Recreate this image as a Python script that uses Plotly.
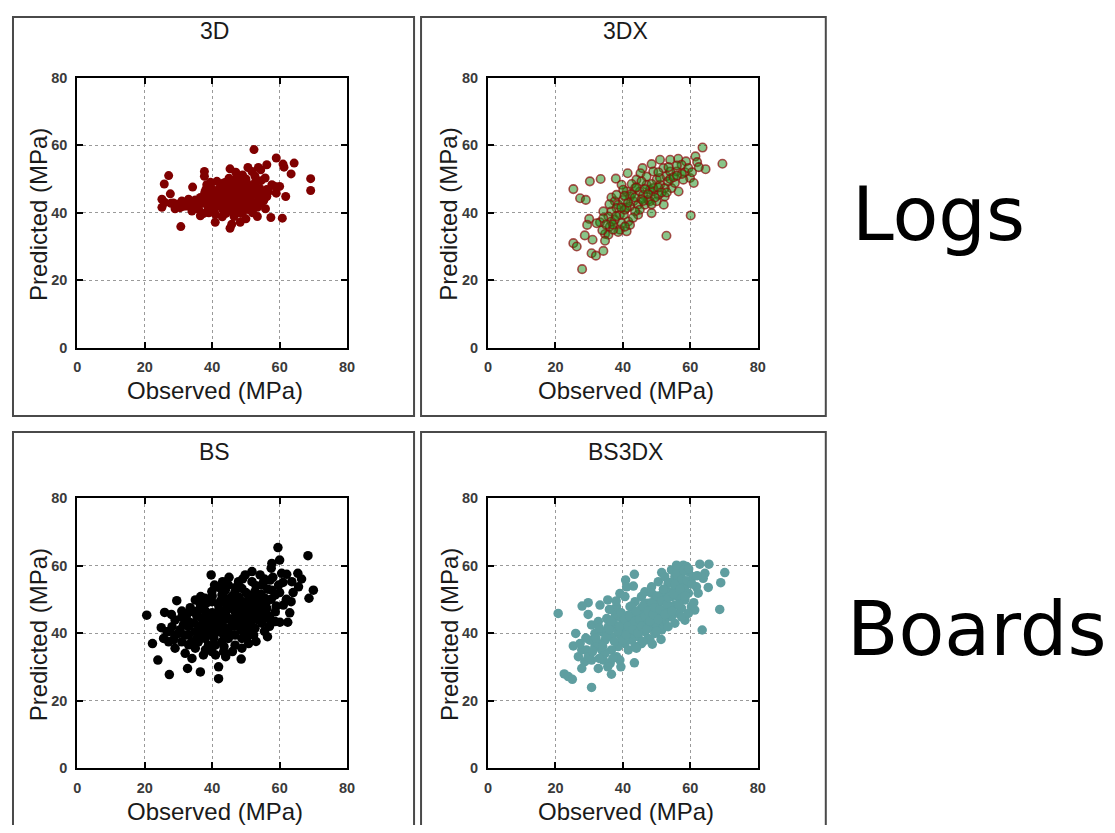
import plotly.graph_objects as go

# ---------------- data (Observed, Predicted) in MPa ----------------
panel_titles = ["3D", "3DX", "BS", "BS3DX"]
row_labels = ["Logs", "Boards"]
tick_vals = [0, 20, 40, 60, 80]

pts_3d = [
    (52.4, 58.7), (59.0, 56.2), (64.3, 54.7), (61.0, 54.4), (61.3, 53.5), (56.2, 54.2),
    (53.7, 53.4), (54.4, 52.7), (50.6, 53.4), (45.3, 53.0), (63.4, 51.5), (37.7, 52.2),
    (37.7, 50.8), (27.1, 51.0), (25.8, 48.5), (34.2, 47.6), (69.2, 50.1), (69.2, 46.6),
    (25.1, 44.0), (25.1, 41.6), (27.6, 45.6), (28.5, 42.9), (29.0, 41.2), (30.7, 35.9),
    (60.0, 47.8), (61.8, 44.8), (56.2, 44.8), (57.4, 38.6), (60.8, 38.4), (53.4, 38.9),
    (40.9, 37.2), (45.3, 35.4), (45.8, 36.6), (48.3, 37.2), (36.5, 39.1), (31.5, 41.9),
    (33.5, 41.9), (35.0, 43.8), (38.4, 48.3), (38.1, 46.8), (41.4, 49.3), (43.4, 48.8),
    (44.5, 47.8), (47.3, 50.3), (48.3, 49.3), (51.8, 52.2), (52.7, 50.8), (55.7, 50.3),
    (57.7, 48.3), (58.7, 47.8), (52.2, 48.3), (53.2, 46.8), (56.7, 46.3), (59.0, 45.8),
    (36.5, 44.5), (37.2, 42.8), (37.8, 46.0), (38.5, 43.5), (38.8, 41.2), (39.3, 45.2),
    (39.8, 47.3), (40.2, 43.0), (40.5, 40.8), (40.9, 45.9), (41.3, 44.1), (41.8, 42.0),
    (42.0, 47.0), (42.4, 45.0), (42.8, 43.1), (43.1, 41.0), (43.5, 46.2), (43.8, 44.3),
    (44.1, 39.8), (44.5, 42.5), (44.9, 45.7), (45.2, 47.6), (45.5, 43.8), (45.8, 41.5),
    (46.2, 44.9), (46.5, 46.8), (46.8, 42.9), (47.1, 40.3), (47.4, 45.4), (47.7, 48.5),
    (48.0, 43.9), (48.3, 41.8), (48.6, 46.3), (48.9, 44.6), (49.2, 47.5), (49.5, 42.7),
    (49.8, 45.1), (50.1, 49.3), (50.4, 43.5), (50.7, 46.6), (51.0, 40.9), (51.3, 44.2),
    (51.6, 47.9), (51.9, 42.3), (52.2, 45.8), (52.5, 43.0), (52.8, 49.0), (53.1, 46.4),
    (53.4, 41.6), (53.8, 44.8), (54.1, 47.2), (54.5, 42.9), (54.9, 45.5), (55.3, 43.6),
    (55.8, 41.2), (56.2, 46.9), (45.0, 50.2), (46.0, 48.8), (47.5, 50.6), (49.0, 51.2),
    (44.0, 49.0), (42.5, 48.5), (41.0, 39.5), (39.0, 40.0), (43.0, 38.8), (48.5, 39.8),
    (50.0, 38.2), (46.5, 38.9), (37.5, 39.8), (35.5, 42.5), (34.0, 40.5), (32.5, 42.0),
    (30.5, 41.5), (29.5, 42.5), (27.8, 42.8), (26.0, 43.0),
    (44.5, 44.5), (45.5, 46.0), (46.5, 43.5), (47.5, 42.0), (48.5, 45.5), (49.5, 48.5),
    (50.5, 41.5), (51.5, 45.0), (52.5, 47.5), (53.5, 43.0), (46.0, 40.5), (44.0, 42.0),
    (42.0, 44.5), (40.0, 42.0), (49.0, 40.0), (52.0, 40.0), (54.5, 49.5), (55.5, 44.5),
    (43.0, 47.5), (41.5, 46.5), (50.0, 50.0), (47.0, 52.0), (39.5, 49.0), (38.0, 44.0),
    (36.0, 41.0), (33.0, 44.0), (31.0, 43.5), (48.0, 47.0), (45.0, 42.5), (51.0, 43.0),
]

pts_3dx = [
    (63.6, 59.3), (69.5, 54.5), (61.5, 56.7), (62.0, 55.0), (64.5, 52.9), (56.4, 56.0),
    (58.7, 55.2), (51.0, 55.7), (54.0, 55.7), (48.5, 54.4), (45.8, 53.2), (45.2, 51.7),
    (41.4, 51.7), (37.9, 50.1), (30.2, 49.3), (33.4, 50.0), (25.3, 47.0), (27.3, 44.3),
    (29.0, 43.8), (60.1, 39.2), (52.9, 33.2), (27.9, 23.3), (25.3, 31.0), (26.3, 30.0),
    (30.7, 28.0), (32.0, 27.3), (34.2, 28.7), (28.7, 33.3), (31.0, 32.0), (30.0, 38.2),
    (29.4, 36.4), (33.2, 37.2), (34.2, 40.4), (34.7, 33.7), (35.7, 33.5), (33.9, 34.8),
    (36.6, 44.5), (37.6, 43.4), (38.6, 42.4), (39.1, 39.4), (40.3, 39.4), (39.1, 35.0),
    (38.6, 34.3), (41.1, 34.5), (37.6, 37.9), (41.6, 37.4), (42.1, 36.4), (44.5, 39.4),
    (48.5, 39.9), (52.1, 42.4), (56.5, 46.3), (52.4, 44.8), (54.4, 47.3), (58.4, 52.0),
    (59.9, 50.3), (61.0, 48.8), (57.9, 49.8), (55.9, 52.2), (52.9, 50.8), (50.0, 49.8),
    (47.0, 48.3), (48.0, 46.8), (43.6, 47.3), (45.0, 46.3), (41.1, 46.3), (42.1, 44.8),
    (39.6, 48.3), (40.1, 46.8), (43.1, 43.4), (44.5, 42.4), (46.0, 45.3), (47.5, 43.8),
    (49.0, 46.3), (50.5, 45.3), (46.5, 42.4), (45.0, 40.9), (42.1, 41.9), (40.6, 40.9),
    (38.1, 41.4), (36.6, 40.4), (35.7, 38.9), (36.6, 37.4), (39.6, 36.9), (40.6, 35.9),
    (51.0, 48.3), (52.4, 47.3), (53.4, 49.3), (55.4, 48.8), (57.4, 54.2), (59.4, 53.2),
    (52.0, 53.2), (54.0, 52.2), (49.0, 52.2), (51.0, 50.3), (44.0, 49.8), (42.6, 48.5),
    (40.1, 43.8), (38.1, 45.3), (34.2, 38.4), (32.2, 36.9), (36.1, 35.9), (37.1, 35.0),
    (34.7, 31.7), (41.1, 41.4), (43.6, 40.4), (48.0, 43.4), (50.0, 43.4), (49.0, 47.3),
    (47.0, 50.7), (45.5, 49.3),
    (42.5, 45.5), (43.5, 44.5), (44.0, 47.5), (45.5, 44.0), (46.5, 47.0), (47.5, 45.5),
    (48.5, 48.5), (49.5, 44.5), (50.5, 47.5), (51.5, 46.0), (53.0, 46.0), (54.0, 50.0),
    (55.0, 50.5), (56.0, 54.0), (57.5, 51.5), (41.5, 43.0), (40.5, 45.0), (39.5, 41.5),
    (38.0, 39.0), (37.0, 36.5), (35.0, 36.5), (36.0, 42.5), (43.0, 38.5), (46.0, 43.5),
    (48.5, 42.5), (50.5, 52.0), (53.5, 53.5), (56.0, 51.0), (60.5, 52.0), (62.5, 53.5),
]

pts_bs = [
    (59.5, 65.3), (68.4, 62.9), (60.0, 61.6), (57.7, 60.6), (57.5, 59.2), (70.0, 52.7),
    (68.7, 50.3), (65.4, 57.7), (63.6, 55.2), (65.6, 53.7), (63.4, 49.3), (62.4, 43.2),
    (60.1, 43.2), (56.4, 38.9), (48.6, 32.3), (41.9, 30.0), (41.9, 26.5), (36.5, 28.5),
    (32.7, 29.5), (27.3, 27.7), (23.9, 32.0), (22.3, 36.9), (20.6, 45.3), (24.9, 41.6),
    (25.9, 46.1), (27.9, 45.5), (29.5, 49.6), (39.7, 57.2), (40.7, 54.2), (43.1, 55.2),
    (36.6, 50.8), (35.0, 49.8), (37.4, 47.8), (43.9, 52.7), (49.8, 57.2), (51.8, 58.2),
    (54.2, 57.2), (54.7, 54.2), (57.2, 55.7), (60.6, 57.7), (62.1, 57.4), (59.7, 54.2),
    (57.7, 52.7), (58.7, 51.3), (55.7, 50.3), (61.1, 48.3), (58.7, 46.3), (56.7, 44.3),
    (58.7, 43.4), (54.7, 42.9), (52.7, 41.4), (52.3, 39.4), (49.8, 40.4), (50.8, 36.9),
    (46.8, 36.4), (48.8, 35.5), (43.4, 34.5), (39.9, 34.5), (37.4, 33.5), (34.0, 32.5),
    (32.0, 34.0), (29.0, 35.5), (27.1, 37.4), (26.6, 40.4), (28.1, 41.9), (31.0, 44.8),
    (33.0, 43.4), (30.0, 39.9), (32.0, 39.4), (34.5, 46.3), (36.0, 46.8), (38.4, 45.3),
    (39.9, 49.3), (41.9, 48.3), (43.9, 50.3), (45.8, 49.3), (46.8, 52.3), (48.8, 53.2),
    (50.8, 51.3), (52.7, 52.3), (51.8, 55.2), (55.2, 55.0), (46.8, 46.3), (48.8, 45.3),
    (50.8, 46.3), (52.3, 47.8), (44.8, 44.3), (42.9, 45.3), (40.9, 43.4), (38.9, 42.4),
    (36.9, 41.4), (35.0, 40.4), (33.0, 39.4), (34.0, 37.4), (35.9, 37.4), (37.9, 38.4),
    (39.9, 39.4), (41.9, 40.4), (43.9, 41.4), (45.8, 42.4), (47.8, 43.4), (49.8, 44.3),
    (51.8, 44.8), (53.7, 46.3), (44.8, 38.4), (46.8, 39.4), (42.9, 37.4), (40.9, 36.4),
    (38.9, 36.4), (31.0, 37.4), (29.0, 39.4), (39.9, 52.3), (37.9, 50.3), (42.9, 51.3),
    (44.8, 54.2), (47.8, 55.2), (45.8, 47.3), (43.9, 46.3), (47.8, 48.3), (49.8, 49.3),
    (53.7, 49.3), (56.2, 47.3), (54.7, 45.3), (41.9, 42.4), (36.9, 44.3), (33.0, 41.9),
    (27.1, 40.4), (25.6, 38.4), (29.0, 43.9), (43.4, 39.4), (48.8, 38.4), (50.8, 41.4),
    (40.9, 45.3), (38.4, 40.4), (35.5, 38.4),
    (31.5, 42.5), (32.5, 45.5), (33.5, 47.5), (34.5, 43.0), (35.5, 45.0), (36.0, 42.0),
    (36.5, 48.5), (37.0, 39.5), (37.5, 44.0), (38.0, 46.5), (38.5, 49.0), (39.0, 41.0),
    (39.5, 43.5), (40.0, 46.0), (40.5, 38.5), (41.0, 41.5), (41.5, 44.5), (42.0, 47.0),
    (42.5, 49.5), (43.0, 43.0), (43.5, 36.0), (44.0, 45.5), (44.5, 48.0), (45.0, 40.0),
    (45.5, 44.0), (46.0, 51.0), (46.5, 42.0), (47.0, 45.0), (47.5, 47.0), (48.0, 50.5),
    (48.5, 41.0), (49.0, 43.0), (49.5, 47.5), (50.0, 52.0), (50.5, 39.0), (51.0, 49.0),
    (51.5, 43.0), (52.0, 45.5), (52.5, 50.5), (53.0, 54.0), (53.5, 44.0), (54.0, 48.0),
    (54.5, 51.5), (55.0, 46.0), (55.5, 56.0), (56.0, 49.0), (56.5, 53.0), (57.0, 45.0),
    (57.5, 50.0), (58.0, 56.5), (59.0, 48.0), (60.0, 52.0), (61.0, 55.0), (62.0, 50.0),
    (63.0, 46.0), (64.0, 52.0), (66.5, 56.0), (35.0, 35.5), (33.0, 36.5), (30.5, 41.0),
    (28.5, 38.0), (31.0, 46.5), (44.0, 33.0), (46.0, 34.5), (38.0, 35.0), (41.0, 33.5),
    (53.0, 37.5), (55.5, 40.5), (57.0, 42.0), (47.0, 53.5), (49.0, 56.0), (45.0, 56.5),
    (42.0, 53.5), (40.0, 51.0),
]

pts_bs3dx = [
    (20.8, 45.8), (22.6, 27.9), (23.8, 27.1), (25.0, 26.3), (30.7, 23.9), (36.6, 27.8),
    (39.4, 30.0), (43.4, 31.2), (51.3, 38.1), (48.7, 36.7), (58.4, 43.8), (63.5, 40.9),
    (68.7, 47.0), (70.2, 57.9), (69.0, 54.9), (65.3, 53.5), (62.8, 60.4), (65.5, 60.4),
    (64.3, 57.7), (63.8, 56.2), (57.9, 60.1), (51.5, 57.9), (43.4, 57.4), (40.8, 55.7),
    (43.1, 53.9), (29.7, 49.0), (27.9, 48.0), (29.7, 45.5), (33.2, 48.3), (35.5, 49.8),
    (26.0, 39.9), (25.3, 36.2), (26.8, 33.0), (28.7, 31.5), (30.7, 32.0), (32.7, 29.5),
    (27.8, 29.5), (36.2, 31.0), (31.7, 36.0), (33.7, 35.0), (30.2, 37.9), (27.8, 35.0),
    (31.7, 39.9), (33.7, 40.4), (30.7, 42.4), (32.7, 43.4), (35.2, 44.3), (37.6, 44.8),
    (37.1, 46.8), (39.1, 51.7), (40.6, 50.8), (38.1, 47.8), (42.1, 47.8), (43.6, 49.3),
    (45.5, 50.8), (46.5, 52.2), (48.5, 53.7), (50.5, 55.2), (52.4, 56.7), (54.4, 58.7),
    (56.4, 59.2), (59.4, 58.2), (60.8, 56.7), (61.8, 53.7), (62.3, 51.8), (60.3, 47.8),
    (61.3, 46.8), (57.4, 47.3), (56.4, 45.8), (54.4, 44.8), (52.4, 43.4), (50.5, 42.4),
    (48.5, 41.4), (46.5, 40.4), (44.5, 38.9), (42.6, 37.9), (40.6, 36.9), (38.6, 36.0),
    (36.6, 35.0), (34.7, 34.0), (34.2, 32.0), (38.1, 33.0), (39.1, 32.0), (41.6, 35.0),
    (43.6, 36.0), (45.5, 36.9), (47.5, 38.4), (49.5, 39.9), (51.5, 40.9), (53.4, 41.9),
    (55.4, 42.9), (57.4, 44.8), (59.4, 45.8), (54.4, 47.8), (52.4, 46.8), (50.5, 45.8),
    (48.5, 44.8), (46.5, 43.9), (44.5, 42.9), (42.6, 41.9), (40.6, 40.9), (38.6, 39.9),
    (36.6, 38.9), (34.7, 37.9), (32.7, 36.9), (35.7, 41.9), (37.6, 42.4), (39.6, 44.4),
    (41.6, 45.3), (43.6, 46.3), (45.5, 47.3), (47.5, 48.8), (49.5, 49.8), (51.5, 51.3),
    (53.4, 52.2), (55.4, 53.7), (57.4, 55.2), (58.4, 53.7), (59.4, 51.8), (56.4, 50.8),
    (58.4, 49.8), (54.4, 50.8), (52.4, 49.8), (50.5, 48.8), (46.5, 46.3), (44.5, 44.8),
    (42.6, 43.9), (40.6, 42.9), (39.6, 38.9), (42.6, 39.9), (45.5, 40.9), (47.5, 41.9),
    (49.5, 42.9), (51.5, 44.8), (53.4, 45.8), (55.4, 48.3), (56.9, 52.7), (53.4, 54.7),
    (55.4, 56.7), (57.4, 57.7), (58.9, 59.7), (55.9, 60.1), (46.5, 48.8), (48.5, 51.8),
    (29.2, 35.0), (27.3, 36.9), (29.7, 33.0), (41.1, 53.7),
    (32.0, 38.5), (33.0, 41.5), (34.0, 36.0), (35.0, 39.0), (36.0, 41.0), (36.5, 43.5),
    (37.5, 37.5), (38.5, 40.5), (39.0, 42.0), (39.5, 46.0), (40.0, 38.0), (40.5, 44.0),
    (41.0, 39.5), (41.5, 42.0), (42.0, 45.0), (42.5, 48.0), (43.0, 41.0), (43.5, 43.5),
    (44.0, 46.5), (44.5, 40.0), (45.0, 44.0), (45.5, 42.0), (46.0, 48.0), (46.5, 45.0),
    (47.0, 41.0), (47.5, 46.5), (48.0, 43.5), (48.5, 49.0), (49.0, 45.5), (49.5, 47.5),
    (50.0, 51.0), (50.5, 44.0), (51.0, 47.0), (51.5, 49.5), (52.0, 53.0), (52.5, 45.5),
    (53.0, 48.5), (53.5, 50.5), (54.0, 55.0), (54.5, 46.5), (55.0, 51.5), (55.5, 54.5),
    (56.0, 57.5), (56.5, 48.5), (57.0, 53.0), (57.5, 56.0), (58.0, 58.5), (58.5, 51.0),
    (59.0, 55.5), (59.5, 59.0), (60.5, 54.5), (61.0, 49.0), (62.0, 57.0), (48.0, 38.0),
    (50.0, 40.5), (46.0, 37.5), (44.0, 35.5), (37.0, 32.5), (35.5, 30.0), (33.0, 32.5),
    (31.0, 34.5), (29.0, 38.5), (38.0, 49.5), (36.0, 47.0),
]

# ---------------- layout geometry ----------------
# Positions below are given in the target image's pixel coordinates and
# converted to figure pixels with a calibration measured from earlier renders.
W, H = 1099, 817
SX, OX = 0.9897, 11.7
SY, OY = 0.9797, 16.4

def fx(p):
    return (p - OX) / SX
def fy(p):
    return (p - OY) / SY
def px_x(p):
    return max(fx(p), 1.0) / W
def px_y(p):
    return 1 - max(fy(p), 1.0) / H

plot_x = [(77, 347), (488, 758)]
plot_y = [(78, 348), (498, 768)]
boxes_x = [(10, 414), (421, 826)]
boxes_y = [(11, 416), (432, 850)]

series = [
    (pts_3d, dict(color="#800000", size=9, line=dict(width=0))),
    (pts_3dx, dict(color="rgba(20,140,20,0.5)", size=8.5,
                   line=dict(color="rgba(140,10,10,0.7)", width=1.6))),
    (pts_bs, dict(color="#000000", size=9.5, line=dict(width=0))),
    (pts_bs3dx, dict(color="#5F9EA0", size=9.5, line=dict(width=0))),
]

fig = go.Figure()
layout = dict(
    width=W, height=H, autosize=False,
    margin=dict(l=0, r=0, t=0, b=0),
    paper_bgcolor="white", plot_bgcolor="white",
    showlegend=False,
)

shapes = []
annotations = []
axis_font = dict(family="Liberation Sans, Arial", size=24, color="#1a1a1a")

for i, (pts, marker) in enumerate(series):
    r, c = divmod(i, 2)
    idx = "" if i == 0 else str(i + 1)
    xs = [p[0] for p in pts]
    ys = [p[1] for p in pts]
    fig.add_trace(go.Scatter(x=xs, y=ys, mode="markers", marker=marker,
                             xaxis="x" + idx, yaxis="y" + idx, hoverinfo="x+y"))
    common = dict(
        range=[0, 80], tickvals=tick_vals, showgrid=True,
        gridcolor="#9a9a9a", griddash="dot", gridwidth=1,
        showline=True, linecolor="black", linewidth=2, mirror="ticks",
        ticks="inside", ticklen=6, tickcolor="black", tickwidth=2,
        tickfont=dict(family="Liberation Sans, Arial", size=14.5, color="#3a3a3a", weight="bold"),
        zeroline=False, fixedrange=True,
    )
    layout["xaxis" + idx] = dict(common, domain=[px_x(plot_x[c][0]), px_x(plot_x[c][1])],
                                 anchor="y" + idx, ticklabelstandoff=5)
    layout["yaxis" + idx] = dict(common, domain=[px_y(plot_y[r][1]), px_y(plot_y[r][0])],
                                 anchor="x" + idx, ticklabelstandoff=5)

    bx0, bx1 = boxes_x[c]
    by0, by1 = boxes_y[r]
    shapes.append(dict(type="rect", xref="paper", yref="paper",
                       x0=px_x(bx0), x1=px_x(bx1), y0=px_y(by1), y1=px_y(by0),
                       line=dict(color="#4a4a4a", width=2), layer="below"))
    cx = (bx0 + bx1) / 2
    annotations.append(dict(text=panel_titles[i], xref="paper", yref="paper",
                            x=px_x(cx + 2), y=px_y(by0 + 20), showarrow=False,
                            xanchor="center", yanchor="middle",
                            font=dict(family="Liberation Sans, Arial", size=23, color="#1a1a1a")))
    pcx = (plot_x[c][0] + plot_x[c][1]) / 2
    annotations.append(dict(text="Observed (MPa)", xref="paper", yref="paper",
                            x=px_x(pcx + 3), y=px_y(plot_y[r][1] + 43), showarrow=False,
                            xanchor="center", yanchor="middle", font=axis_font))
    pcy = (plot_y[r][0] + plot_y[r][1]) / 2
    annotations.append(dict(text="Predicted (MPa)", xref="paper", yref="paper",
                            x=px_x(plot_x[c][0] - 39), y=px_y(pcy + 2), showarrow=False,
                            textangle=-90, xanchor="center", yanchor="middle", font=axis_font))

big_font = dict(family="DejaVu Sans", size=75, color="black")
annotations.append(dict(text=row_labels[0], xref="paper", yref="paper", x=px_x(850), y=px_y(214),
                        showarrow=False, xanchor="left", yanchor="middle", font=big_font))
annotations.append(dict(text=row_labels[1], xref="paper", yref="paper", x=px_x(845), y=px_y(629),
                        showarrow=False, xanchor="left", yanchor="middle", font=big_font))

layout["shapes"] = shapes
layout["annotations"] = annotations
fig.update_layout(**layout)
fig.write_html("out.html")
